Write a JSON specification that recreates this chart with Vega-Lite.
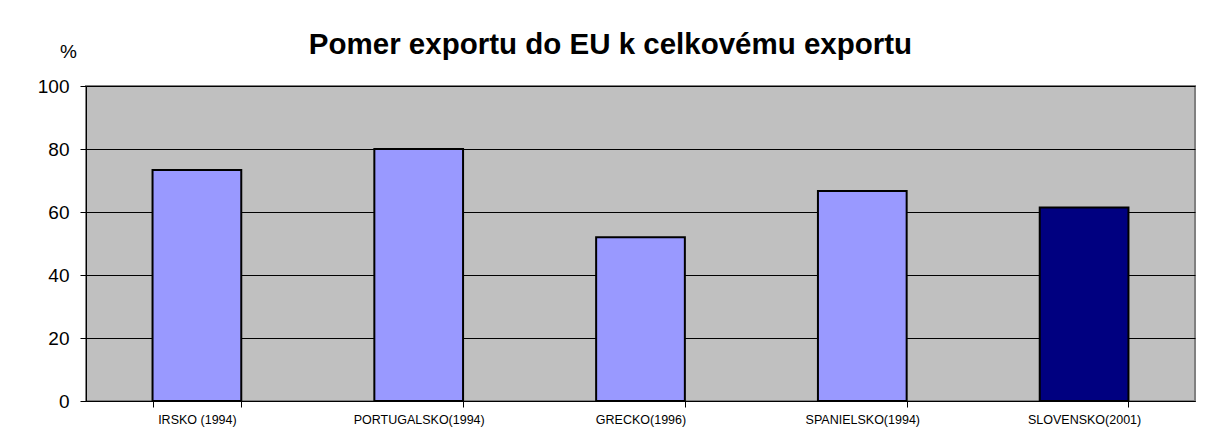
{
  "$schema": "https://vega.github.io/schema/vega-lite/v6.json",
  "autosize": {"type": "none"},
  "width": 1109,
  "height": 315,
  "padding": {"left": 86, "top": 86, "right": 21, "bottom": 27},
  "background": "white",
  "title": {
    "text": "Pomer exportu do EU k celkovému exportu",
    "font": "Liberation Sans",
    "fontSize": 29.5,
    "fontWeight": "bold",
    "color": "black",
    "frame": "group",
    "anchor": "middle",
    "baseline": "alphabetic",
    "offset": 31,
    "dx": -30,
    "dy": 72
  },
  "config": {
    "font": "Liberation Sans",
    "view": {"fill": "#C0C0C0", "stroke": "#808080", "strokeWidth": 2}
  },
  "data": {
    "values": [
      {"krajina": "IRSKO (1994)", "podiel": 73.3, "skupina": "ine"},
      {"krajina": "PORTUGALSKO(1994)", "podiel": 80.0, "skupina": "ine"},
      {"krajina": "GRECKO(1996)", "podiel": 52.0, "skupina": "ine"},
      {"krajina": "SPANIELSKO(1994)", "podiel": 66.7, "skupina": "ine"},
      {"krajina": "SLOVENSKO(2001)", "podiel": 61.4, "skupina": "sk"}
    ]
  },
  "mark": {"type": "bar", "stroke": "black", "strokeWidth": 2},
  "encoding": {
    "x": {
      "field": "krajina",
      "type": "nominal",
      "sort": null,
      "scale": {"paddingInner": 0.6, "paddingOuter": 0.3},
      "axis": {
        "title": null,
        "labelAngle": 0,
        "labelFontSize": 12.5,
        "labelColor": "black",
        "labelPadding": 6,
        "tickBand": "extent",
        "tickSize": 6,
        "tickColor": "black",
        "domainColor": "black",
        "domainWidth": 1,
        "grid": false
      }
    },
    "y": {
      "field": "podiel",
      "type": "quantitative",
      "scale": {"domain": [0, 100], "nice": false},
      "axis": {
        "title": "%",
        "titleAngle": 0,
        "titleX": -18,
        "titleY": -35,
        "titleAlign": "center",
        "titleBaseline": "middle",
        "titleFontSize": 19,
        "titleFontWeight": "normal",
        "titleColor": "black",
        "values": [0, 20, 40, 60, 80, 100],
        "labelFontSize": 19,
        "labelColor": "black",
        "labelPadding": 11,
        "tickSize": 6,
        "tickColor": "black",
        "domainColor": "black",
        "domainWidth": 1,
        "grid": true,
        "gridColor": "black",
        "gridWidth": 1
      }
    },
    "color": {
      "field": "skupina",
      "type": "nominal",
      "scale": {"domain": ["ine", "sk"], "range": ["#9999FF", "#000080"]},
      "legend": null
    }
  }
}
